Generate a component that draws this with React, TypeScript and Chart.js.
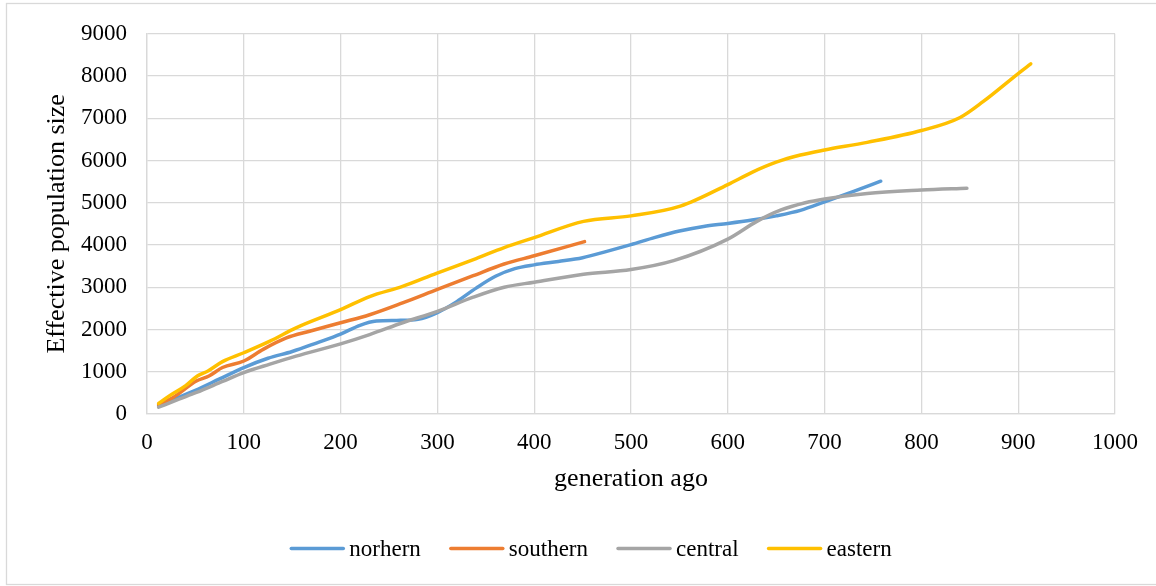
import { useEffect, useRef } from "react";
import { Chart, registerables } from "chart.js";

Chart.register(...registerables);

// Effective population size against generations ago, one series per region
const seriesLabels = ["norhern", "southern", "central", "eastern"];
const seriesColors = ["#5B9BD5", "#ED7D31", "#A5A5A5", "#FFC000"];

const northernX = [12, 30, 50, 75, 100, 125, 150, 175, 200, 220, 237, 258, 280, 300, 320, 340, 360, 380, 400, 425, 450, 475, 500, 525, 550, 575, 600, 625, 650, 675, 700, 730, 758];
const northernY = [200, 370, 560, 830, 1100, 1320, 1480, 1680, 1890, 2100, 2200, 2215, 2240, 2400, 2660, 2980, 3260, 3440, 3530, 3610, 3700, 3850, 4010, 4180, 4330, 4440, 4510, 4590, 4690, 4820, 5020, 5270, 5510];

const southernX = [12, 27, 51, 64, 78, 100, 120, 144, 168, 200, 230, 264, 300, 337, 369, 400, 452];
const southernY = [220, 390, 780, 900, 1100, 1255, 1530, 1800, 1960, 2160, 2350, 2630, 2950, 3275, 3550, 3745, 4080];

const centralX = [12, 33, 51, 78, 100, 127, 154, 200, 230, 264, 300, 337, 369, 400, 451, 500, 544, 600, 630, 655, 680, 700, 744, 800, 847];
const centralY = [160, 350, 510, 770, 980, 1180, 1370, 1660, 1880, 2160, 2430, 2765, 3000, 3120, 3310, 3420, 3630, 4140, 4560, 4830, 5000, 5090, 5220, 5300, 5345];

const easternX = [12, 23, 40, 52, 63, 78, 100, 127, 154, 200, 230, 264, 299, 340, 369, 400, 451, 500, 551, 600, 625, 650, 675, 700, 744, 800, 840, 864, 900, 913];
const easternY = [250, 430, 670, 900, 1020, 1240, 1450, 1725, 2040, 2470, 2780, 3020, 3330, 3680, 3940, 4176, 4560, 4690, 4920, 5430, 5720, 5960, 6130, 6250, 6430, 6710, 7020, 7400, 8060, 8290];

const xMin = 0;
const xMax = 1000;
const xStep = 100;
const yMin = 0;
const yMax = 9000;
const yStep = 1000;

const xTitle = "generation ago";
const yTitle = "Effective population size";

const FONT = '"Liberation Serif", "Times New Roman", serif';
const GRID = "#d9d9d9";
const TEXT = "#000000";

const toPoints = (xs: number[], ys: number[]) => xs.map((x, i) => ({ x, y: ys[i] }));

// Light frame around the whole chart area (its right edge runs past the view)
const framePlugin = {
  id: "frame",
  beforeDraw(chart: any) {
    const { ctx, width, height } = chart;
    ctx.save();
    ctx.fillStyle = "#ffffff";
    ctx.fillRect(0, 0, width, height);
    ctx.strokeStyle = GRID;
    ctx.lineWidth = 1.3;
    ctx.strokeRect(6.5, 3.5, width + 40, height - 5);
    ctx.restore();
  },
};

// Horizontal legend below the axis title: short line swatch followed by the label
const lineLegendPlugin = {
  id: "lineLegend",
  afterDraw(chart: any) {
    const { ctx } = chart;
    const swatch = 54;
    const gap = 5;
    const spacing = 29;
    const centerX = 591;
    const lineY = 548.5;
    const baseline = 556;
    ctx.save();
    ctx.font = `23px ${FONT}`;
    const datasets = chart.data.datasets;
    const widths = datasets.map((d: any) => ctx.measureText(d.label).width);
    const total =
      widths.reduce((s: number, w: number) => s + swatch + gap + w, 0) +
      spacing * (datasets.length - 1);
    let x = centerX - total / 2;
    datasets.forEach((d: any, i: number) => {
      ctx.strokeStyle = d.borderColor;
      ctx.lineWidth = 3.5;
      ctx.lineCap = "round";
      ctx.beginPath();
      ctx.moveTo(x + 1, lineY);
      ctx.lineTo(x + swatch - 1, lineY);
      ctx.stroke();
      ctx.fillStyle = TEXT;
      ctx.textAlign = "left";
      ctx.textBaseline = "alphabetic";
      ctx.fillText(d.label, x + swatch + gap, baseline);
      x += swatch + gap + widths[i] + spacing;
    });
    ctx.restore();
  },
};

export default function App() {
  const canvasRef = useRef<HTMLCanvasElement | null>(null);

  useEffect(() => {
    const canvas = canvasRef.current;
    if (!canvas) return;

    const xs = [northernX, southernX, centralX, easternX];
    const ys = [northernY, southernY, centralY, easternY];

    const chart = new Chart(canvas, {
      type: "line",
      data: {
        datasets: seriesLabels.map((label, i) => ({
          label,
          data: toPoints(xs[i], ys[i]),
          borderColor: seriesColors[i],
          backgroundColor: seriesColors[i],
          borderWidth: 3.5,
          borderCapStyle: "round" as const,
          borderJoinStyle: "round" as const,
          pointRadius: 0,
          pointHoverRadius: 0,
          cubicInterpolationMode: "monotone" as const,
          fill: false,
          // later series are painted above earlier ones
          order: seriesLabels.length - 1 - i,
        })),
      },
      options: {
        responsive: false,
        animation: false,
        devicePixelRatio: 1,
        layout: { padding: { top: 33, right: 41, bottom: 0, left: 0 } },
        plugins: {
          legend: { display: false },
          tooltip: { enabled: false },
        },
        scales: {
          x: {
            type: "linear",
            min: xMin,
            max: xMax,
            afterFit: (scale: any) => {
              scale.height = 172;
            },
            ticks: {
              stepSize: xStep,
              padding: 15,
              color: TEXT,
              font: { family: FONT, size: 23 },
              maxRotation: 0,
              callback: (v: any) => String(v),
            },
            grid: { color: GRID, lineWidth: 1.3, drawTicks: false },
            border: { color: GRID, width: 1.3 },
            title: {
              display: true,
              text: xTitle,
              color: TEXT,
              font: { family: FONT, size: 26 },
              padding: { top: 0, bottom: 91 },
            },
          },
          y: {
            type: "linear",
            min: yMin,
            max: yMax,
            afterFit: (scale: any) => {
              scale.width = 147;
            },
            ticks: {
              stepSize: yStep,
              padding: 20,
              color: TEXT,
              font: { family: FONT, size: 23 },
              callback: (v: any) => String(v),
            },
            grid: { color: GRID, lineWidth: 1.3, drawTicks: false },
            border: { color: GRID, width: 1.3 },
            title: {
              display: true,
              text: yTitle,
              color: TEXT,
              font: { family: FONT, size: 26 },
              padding: { top: 42, bottom: 0 },
            },
          },
        },
      },
      plugins: [framePlugin, lineLegendPlugin],
    });

    return () => chart.destroy();
  }, []);

  return (
    <div
      style={{
        position: "fixed",
        left: 0,
        top: 0,
        width: 1156,
        height: 586,
        overflow: "hidden",
        background: "#ffffff",
      }}
    >
      <canvas ref={canvasRef} width={1156} height={586} style={{ display: "block" }} />
    </div>
  );
}
